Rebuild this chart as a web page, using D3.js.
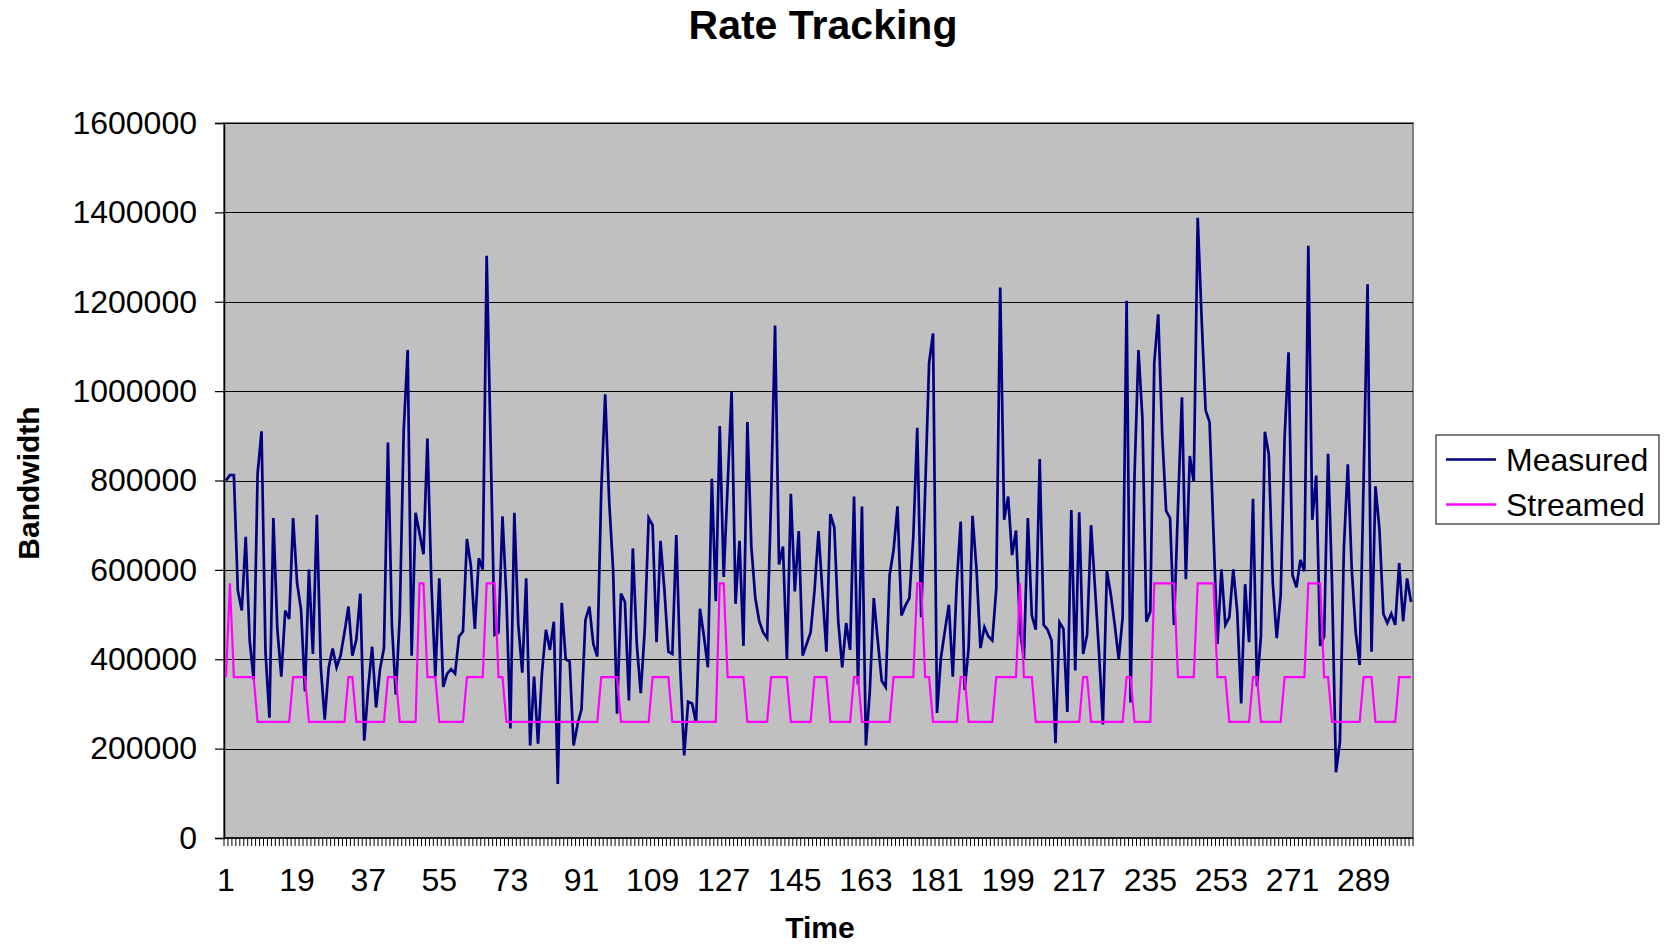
<!DOCTYPE html>
<html><head><meta charset="utf-8">
<script src="https://cdn.jsdelivr.net/npm/d3@7"></script>
<style>
body{margin:0;background:#fff;}
svg{display:block;font-family:"Liberation Sans",Arial,sans-serif;}
</style>
</head><body>
<svg id="chart" width="1664" height="944"></svg>
<script>
const measured = [
800000,812000,812000,554000,509000,674000,442000,355000,815000,910000,
417000,269000,716000,468000,361000,509000,490000,716000,571000,511000,
328000,601000,412000,723000,382000,265000,381000,424000,382000,408000,
460000,518000,408000,444000,547000,218000,335000,428000,292000,378000,
425000,885000,477000,321000,498000,913000,1092000,408000,728000,682000,
635000,894000,571000,361000,581000,338000,368000,378000,368000,451000,
462000,669000,609000,468000,626000,601000,1303000,880000,455000,460000,
720000,537000,245000,728000,477000,370000,581000,207000,361000,211000,
370000,466000,421000,484000,121000,526000,400000,395000,207000,254000,
288000,488000,518000,434000,406000,776000,993000,755000,601000,278000,
547000,528000,308000,648000,434000,324000,464000,716000,700000,438000,
665000,554000,417000,412000,678000,380000,185000,305000,301000,258000,
513000,451000,382000,804000,530000,922000,584000,790000,999000,524000,
665000,430000,931000,652000,537000,485000,460000,447000,760000,1147000,
612000,652000,400000,770000,552000,687000,408000,434000,460000,554000,
687000,550000,417000,725000,695000,485000,382000,481000,421000,764000,
344000,742000,207000,330000,537000,442000,352000,338000,588000,644000,
742000,498000,520000,537000,674000,918000,494000,776000,1063000,1129000,
280000,404000,464000,522000,361000,571000,708000,331000,425000,721000,
601000,425000,472000,451000,442000,558000,1232000,712000,764000,633000,
688000,468000,400000,716000,498000,466000,848000,477000,466000,442000,
212000,483000,468000,282000,734000,375000,729000,412000,455000,700000,
560000,417000,254000,598000,545000,477000,400000,494000,1202000,303000,
811000,1092000,939000,484000,507000,1063000,1172000,905000,732000,716000,
477000,740000,986000,579000,855000,797000,1388000,1160000,957000,931000,
682000,434000,601000,477000,494000,601000,507000,301000,568000,438000,
759000,340000,451000,909000,858000,571000,447000,543000,896000,1087000,
588000,561000,622000,597000,1325000,712000,811000,430000,451000,860000,
571000,147000,215000,648000,836000,601000,460000,387000,802000,1239000,
417000,787000,691000,502000,481000,502000,477000,615000,485000,581000,
528000];

const streamed = [
360000,570000,360000,360000,360000,360000,360000,360000,260000,260000,
260000,260000,260000,260000,260000,260000,260000,360000,360000,360000,
360000,260000,260000,260000,260000,260000,260000,260000,260000,260000,
260000,360000,360000,260000,260000,260000,260000,260000,260000,260000,
260000,360000,360000,360000,260000,260000,260000,260000,260000,570000,
570000,360000,360000,360000,260000,260000,260000,260000,260000,260000,
260000,360000,360000,360000,360000,360000,570000,570000,570000,360000,
360000,260000,260000,260000,260000,260000,260000,260000,260000,260000,
260000,260000,260000,260000,260000,260000,260000,260000,260000,260000,
260000,260000,260000,260000,260000,360000,360000,360000,360000,360000,
260000,260000,260000,260000,260000,260000,260000,260000,360000,360000,
360000,360000,360000,260000,260000,260000,260000,260000,260000,260000,
260000,260000,260000,260000,260000,570000,570000,360000,360000,360000,
360000,360000,260000,260000,260000,260000,260000,260000,360000,360000,
360000,360000,360000,260000,260000,260000,260000,260000,260000,360000,
360000,360000,360000,260000,260000,260000,260000,260000,260000,360000,
360000,260000,260000,260000,260000,260000,260000,260000,260000,360000,
360000,360000,360000,360000,360000,570000,570000,360000,360000,260000,
260000,260000,260000,260000,260000,260000,360000,360000,260000,260000,
260000,260000,260000,260000,260000,360000,360000,360000,360000,360000,
360000,570000,360000,360000,360000,260000,260000,260000,260000,260000,
260000,260000,260000,260000,260000,260000,260000,360000,360000,260000,
260000,260000,260000,260000,260000,260000,260000,260000,360000,360000,
260000,260000,260000,260000,260000,570000,570000,570000,570000,570000,
570000,360000,360000,360000,360000,360000,570000,570000,570000,570000,
570000,360000,360000,360000,260000,260000,260000,260000,260000,260000,
360000,360000,260000,260000,260000,260000,260000,260000,360000,360000,
360000,360000,360000,360000,570000,570000,570000,570000,360000,360000,
260000,260000,260000,260000,260000,260000,260000,260000,360000,360000,
360000,260000,260000,260000,260000,260000,260000,360000,360000,360000,
360000];

const categories = d3.range(1, measured.length + 1);
const xTickLabels = [1,19,37,55,73,91,109,127,145,163,181,199,217,235,253,271,289];
const yTickValues = [0,200000,400000,600000,800000,1000000,1200000,1400000,1600000];
const seriesNames = ["Measured","Streamed"];
const seriesColors = ["#000080","#FF00FF"];
const chartTitle = "Rate Tracking";
const xTitle = "Time";
const yTitle = "Bandwidth";

const svg = d3.select("#chart");
const L = 224, R = 1413, T = 123, B = 838;

const x = d3.scaleBand().domain(categories).range([L, R]).padding(0);
const cx = c => x(c) + x.bandwidth() / 2;
const y = d3.scaleLinear().domain([0, 1600000]).range([B, T]);

// plot background
svg.append("rect").attr("x", L).attr("y", T).attr("width", R - L).attr("height", B - T)
  .attr("fill", "#C0C0C0").attr("stroke", "#808080").attr("stroke-width", 2);

// gridlines
svg.append("g").selectAll("line").data(yTickValues.filter(v => v > 0)).join("line")
  .attr("x1", L).attr("x2", R)
  .attr("y1", d => Math.round(y(d)) + 0.5).attr("y2", d => Math.round(y(d)) + 0.5)
  .attr("stroke", "#000").attr("stroke-width", 1);

// y axis
const yAxis = svg.append("g").attr("transform", `translate(${L},0)`)
  .call(d3.axisLeft(y).tickValues(yTickValues).tickSize(9).tickPadding(18).tickFormat(d3.format("d")));
yAxis.select(".domain").attr("stroke", "#000").attr("stroke-width", 1.5);
yAxis.selectAll(".tick line").attr("stroke", "#000").attr("stroke-width", 1.2);
yAxis.selectAll("text").attr("font-size", 32).attr("fill", "#000")
  .attr("font-family", '"Liberation Sans",Arial,sans-serif');

// x axis: category boundary ticks
const boundaries = categories.map(c => x(c)).concat([R]);
svg.append("g").selectAll("line").data(boundaries).join("line")
  .attr("x1", d => d).attr("x2", d => d).attr("y1", B).attr("y2", B + 8)
  .attr("stroke", "#000").attr("stroke-width", 1);

const xAxis = svg.append("g").attr("transform", `translate(0,${B})`)
  .call(d3.axisBottom(x).tickValues(xTickLabels).tickSize(0).tickPadding(0));
xAxis.select(".domain").remove();
xAxis.selectAll("text").attr("font-size", 32).attr("fill", "#000")
  .attr("y", 53).attr("dy", 0)
  .attr("font-family", '"Liberation Sans",Arial,sans-serif');
svg.append("line").attr("x1", L).attr("x2", R).attr("y1", B).attr("y2", B)
  .attr("stroke", "#000").attr("stroke-width", 1.5);

// series lines
const line = d3.line().x((d, i) => cx(categories[i])).y(d => y(d));
[measured, streamed].forEach((s, k) => {
  svg.append("path").datum(s).attr("d", line)
    .attr("fill", "none").attr("stroke", seriesColors[k])
    .attr("stroke-width", k === 0 ? 2.7 : 2.2).attr("stroke-linejoin", "miter");
});

// titles
svg.append("text").attr("x", 823).attr("y", 39).attr("text-anchor", "middle")
  .attr("font-size", 41).attr("font-weight", "bold").text(chartTitle);
svg.append("text").attr("x", 820).attr("y", 938).attr("text-anchor", "middle")
  .attr("font-size", 30).attr("font-weight", "bold").text(xTitle);
svg.append("text").attr("transform", "translate(39,483) rotate(-90)").attr("text-anchor", "middle")
  .attr("font-size", 30).attr("font-weight", "bold").text(yTitle);

// legend
const lg = svg.append("g");
lg.append("rect").attr("x", 1436).attr("y", 435).attr("width", 223).attr("height", 89)
  .attr("fill", "#fff").attr("stroke", "#000").attr("stroke-width", 1);
seriesNames.forEach((n, k) => {
  const yy = 459.5 + k * 45;
  lg.append("line").attr("x1", 1446).attr("x2", 1496).attr("y1", yy).attr("y2", yy)
    .attr("stroke", seriesColors[k]).attr("stroke-width", 2.4);
  lg.append("text").attr("x", 1506).attr("y", yy).attr("dy", "0.35em")
    .attr("font-size", 32).attr("fill", "#000").text(n);
});
</script>
</body></html>
